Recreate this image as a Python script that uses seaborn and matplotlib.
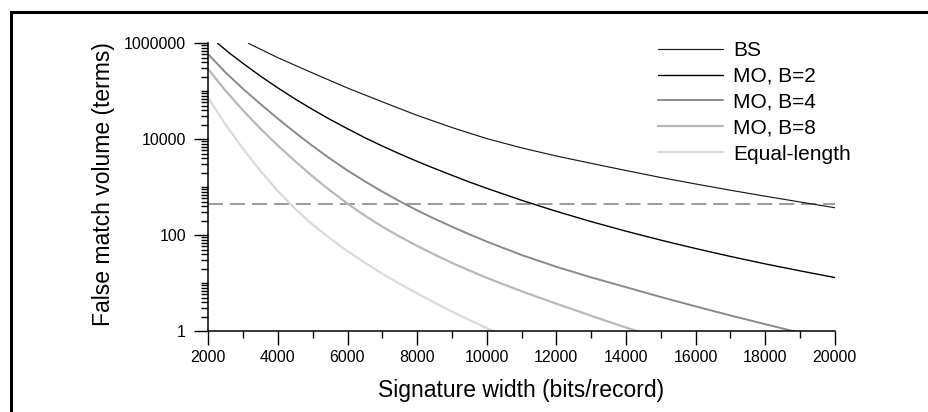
import numpy as np
import pandas as pd
import matplotlib
matplotlib.use("Agg")
import matplotlib.pyplot as plt
import seaborn as sns
from matplotlib.ticker import LogLocator, NullFormatter, MultipleLocator
from matplotlib.patches import Rectangle

# ---------------- data ----------------
bs_x = [3150, 4000, 5000, 6000, 7000, 8000, 9000, 10000, 11000, 12000,
        13000, 14000, 15000, 16000, 17000, 18000, 19000, 20000]
bs_y = [1000000, 501000, 240000, 117000, 60300, 31600, 17600, 10350, 6640,
        4490, 3160, 2240, 1600, 1175, 871, 653, 495, 376]

mo2_x = [2270, 2600, 3000, 3500, 4000, 4500, 5000, 5500, 6000, 6500, 7000,
         7500, 8000, 8500, 9000, 9500, 10000, 11000, 12000, 13000, 14000,
         15000, 16000, 17000, 18000, 19000, 20000]
mo2_y = [1000000, 631000, 380000, 207000, 117500, 68700, 41700, 25900, 16600,
         10800, 7240, 4970, 3470, 2470, 1780, 1290, 955, 537, 316, 193, 122,
         79.4, 53.1, 36.3, 25.4, 18.2, 13.2]

mo4_x = [2000, 2500, 3000, 3500, 4000, 4500, 5000, 5500, 6000, 6500, 7000,
         7500, 8000, 8500, 9000, 9500, 10000, 11000, 12000, 13000, 14000,
         15000, 16000, 17000, 18000, 18830]
mo4_y = [589000, 245000, 112000, 54200, 26900, 13740, 7240, 3950, 2240, 1330,
         813, 512, 331, 221, 151, 105, 74.1, 38.9, 22.1, 13.3, 8.32, 5.19,
         3.31, 2.14, 1.41, 1.0]

mo8_x = [2000, 2500, 3000, 3500, 4000, 4500, 5000, 5500, 6000, 6500, 7000,
         7500, 8000, 8500, 9000, 9500, 10000, 11000, 12000, 13000, 14000,
         14330]
mo8_y = [288000, 102000, 39800, 16600, 7410, 3470, 1680, 861, 457, 257, 151,
         93.8, 60.3, 39.6, 26.6, 18.5, 13.0, 6.84, 3.76, 2.11, 1.20, 1.0]

eq_x = [2000, 2500, 3000, 3500, 4000, 4500, 5000, 5500, 6000, 6500, 7000,
        7500, 8000, 8500, 9000, 9500, 10000, 10200]
eq_y = [72400, 20000, 6310, 2190, 832, 355, 166, 86.1, 46.8, 26.8, 15.8,
        9.79, 6.17, 3.94, 2.57, 1.72, 1.17, 1.0]

threshold = 440

series_names = ["BS", "MO, B=2", "MO, B=4", "MO, B=8", "Equal-length"]
x_ticks = [2000, 4000, 6000, 8000, 10000, 12000, 14000, 16000, 18000, 20000]
y_ticks = [1, 100, 10000, 1000000]
y_tick_labels = ["1", "100", "10000", "1000000"]

# ---------------- styling ----------------
sns.set_style("ticks")
plt.rcParams["font.family"] = ["Liberation Sans", "DejaVu Sans"]

W, H = 929, 412
fig = plt.figure(figsize=(W / 100, H / 100), dpi=100)
ax_left, ax_right, ax_top, ax_bottom = 208.3, 834.7, 43.3, 331.3
ax = fig.add_axes([ax_left / W, 1 - ax_bottom / H,
                   (ax_right - ax_left) / W, (ax_bottom - ax_top) / H])

styles = [
    ("#1a1a1a", 0.85),
    ("#000000", 1.0),
    ("#8a8a8a", 1.4),
    ("#b8b8b8", 1.6),
    ("#dadada", 1.6),
]
all_x = [bs_x, mo2_x, mo4_x, mo8_x, eq_x]
all_y = [bs_y, mo2_y, mo4_y, mo8_y, eq_y]

for name, xs, ys, (col, lw) in zip(series_names, all_x, all_y, styles):
    df = pd.DataFrame({"x": xs, "y": ys})
    sns.lineplot(data=df, x="x", y="y", ax=ax, color=col, linewidth=lw,
                 label=name, estimator=None, sort=False)

ax.axhline(threshold, color="#9a9a9a", linewidth=1.4,
           linestyle=(0, (7.7, 3.6)), zorder=1)

ax.set_yscale("log")
ax.set_xlim(2000, 20000)
ax.set_ylim(1, 1000000)

ax.set_xticks(x_ticks)
ax.set_xticklabels([str(v) for v in x_ticks])
ax.xaxis.set_minor_locator(MultipleLocator(1000))
ax.set_yticks(y_ticks)
ax.set_yticklabels(y_tick_labels)
ax.yaxis.set_minor_locator(LogLocator(base=10, subs=np.arange(1, 10), numticks=30))
ax.yaxis.set_minor_formatter(NullFormatter())

for s in ["top", "right"]:
    ax.spines[s].set_visible(False)
for s in ["left", "bottom"]:
    ax.spines[s].set_linewidth(1.1)
    ax.spines[s].set_color("black")

ax.tick_params(axis="both", which="both", bottom=True, left=True,
               top=False, right=False)
ax.tick_params(axis="both", which="major", direction="out", length=10,
               width=1.0, color="black", labelsize=11.5, labelcolor="black")
ax.tick_params(axis="both", which="minor", direction="out", length=5.0,
               width=1.0, color="black")
ax.tick_params(axis="x", which="major", pad=3.5)
ax.tick_params(axis="y", which="major", pad=6.0)

ax.set_xlabel("Signature width (bits/record)", fontsize=16.5, color="black")
ax.set_ylabel("False match volume (terms)", fontsize=16.5, color="black")
ax.xaxis.set_label_coords(0.5, -0.165)
ax.yaxis.set_label_coords(-0.149, 0.51)

leg = ax.legend(loc="upper left", bbox_to_anchor=(658 / W, 1 - 41 / H),
                bbox_transform=fig.transFigure, frameon=False, fontsize=15,
                handlelength=3.1, handletextpad=0.5, labelspacing=0.33,
                borderpad=0, borderaxespad=0)
for t in leg.get_texts():
    t.set_color("black")

# outer frame (top and left edges visible, others clipped by the canvas)
fig.patches.append(Rectangle((11.2 / W, -0.5), 2.0, 0.5 + 1 - 11.5 / H,
                             transform=fig.transFigure, fill=False,
                             edgecolor="black", linewidth=2.2))

fig.savefig("out.png", dpi=100)
